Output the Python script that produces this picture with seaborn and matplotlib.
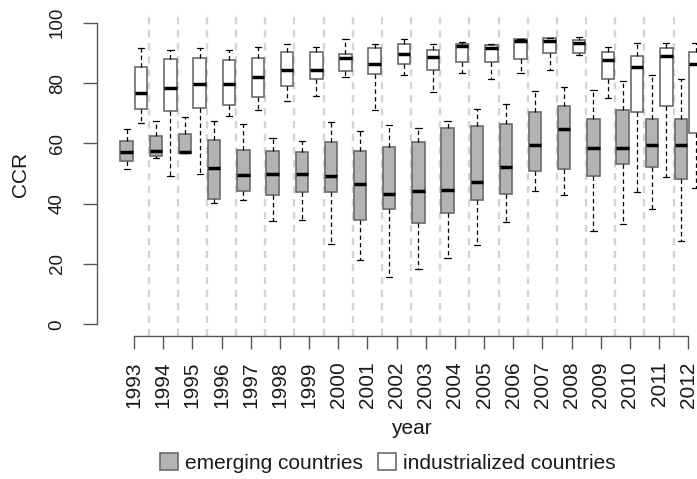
import numpy as np
import pandas as pd
import matplotlib
matplotlib.use("Agg")
import matplotlib.pyplot as plt
from matplotlib.patches import Patch
import seaborn as sns

# Years on the x axis
years = [str(y) for y in range(1993, 2013)]

# Five-number summaries (min, Q1, median, Q3, max) of CCR per year
emerging_min = [51.4, 55.0, 56.9, 40.3, 41.2, 34.4, 34.7, 26.6, 21.4, 15.8,
                18.3, 21.9, 26.3, 33.8, 44.2, 42.9, 30.9, 33.3, 38.1, 27.7]
emerging_q1 = [54.3, 55.9, 56.9, 41.5, 44.1, 42.9, 43.9, 43.8, 34.5, 38.3,
               33.7, 36.8, 41.1, 43.2, 50.7, 51.6, 49.3, 53.0, 52.3, 48.2]
emerging_med = [57.2, 57.5, 57.2, 51.9, 49.6, 49.9, 49.8, 49.3, 46.4, 43.3,
                44.3, 44.5, 47.1, 52.0, 59.5, 64.8, 58.5, 58.5, 59.3, 59.4]
emerging_q3 = [60.9, 62.3, 63.1, 61.1, 57.7, 57.5, 57.1, 60.3, 57.4, 58.8,
               60.3, 65.2, 65.9, 66.5, 70.5, 72.3, 68.0, 71.0, 68.1, 68.0]
emerging_max = [64.8, 67.4, 68.8, 67.5, 66.3, 61.7, 60.9, 67.2, 64.2, 66.1,
                65.2, 67.5, 71.4, 73.0, 77.5, 78.8, 77.7, 80.5, 82.6, 81.3]

industrial_min = [66.6, 49.3, 49.8, 69.1, 71.2, 74.1, 75.8, 82.1, 71.1, 82.7,
                  77.1, 83.2, 81.3, 83.4, 84.3, 89.2, 74.9, 43.8, 48.9, 45.1]
industrial_q1 = [71.3, 70.7, 71.7, 72.7, 75.4, 79.1, 81.2, 84.1, 82.9, 86.3,
                 84.2, 87.1, 87.1, 87.9, 90.1, 89.8, 81.4, 70.3, 72.3, 63.4]
industrial_med = [76.7, 78.3, 79.6, 79.6, 82.1, 84.4, 84.2, 88.2, 86.4, 89.5,
                  88.5, 92.3, 91.5, 93.9, 94.0, 93.3, 87.5, 85.2, 88.9, 86.4]
industrial_q3 = [85.3, 87.9, 88.4, 87.5, 88.4, 90.2, 90.2, 89.6, 91.5, 92.9,
                 90.9, 92.8, 92.6, 94.5, 94.8, 94.3, 90.2, 89.0, 91.5, 90.2]
industrial_max = [91.5, 90.9, 91.5, 90.9, 92.0, 92.9, 92.0, 94.6, 92.9, 94.6,
                  92.8, 93.7, 92.9, 94.6, 95.0, 95.2, 92.0, 93.4, 93.2, 93.2]

groups = ["emerging countries", "industrialized countries"]
colors = {"emerging countries": "#b3b3b3", "industrialized countries": "white"}

rows = []
for g, parts in zip(groups, [
        (emerging_min, emerging_q1, emerging_med, emerging_q3, emerging_max),
        (industrial_min, industrial_q1, industrial_med, industrial_q3, industrial_max)]):
    for i, yr in enumerate(years):
        for arr in parts:
            rows.append({"year": yr, "group": g, "CCR": arr[i]})
df = pd.DataFrame(rows)

sns.set_style("white")
plt.rcParams["font.family"] = ["Liberation Sans", "DejaVu Sans"]

W, H = 697, 479
fig = plt.figure(figsize=(W / 100, H / 100), dpi=100)
ax = fig.add_axes([97 / W, 1 - 336.4 / H, 600 / W, (336.4 - 10.6) / H])

# Light dashed separators between years
for k in range(len(years) - 1):
    ax.axvline(k + 0.5, color="#d4d4d4", lw=1.7, ls=(0, (3, 2.5)), zorder=0)

sns.boxplot(
    data=df, x="year", y="CCR", hue="group", order=years, hue_order=groups,
    palette=colors, width=1.0, gap=0.15, whis=(0, 100), showfliers=False,
    linecolor="#6b6b6b", linewidth=1.2, legend=False, ax=ax,
    medianprops={"color": "black", "linewidth": 2.5},
    whiskerprops={"color": "black", "linewidth": 0.9, "linestyle": (0, (3.5, 2.5))},
    capprops={"color": "black", "linewidth": 0.9},
)

ax.set_xlim(-1.268, 19.30)
ax.set_ylim(-4, 104)
ax.set_xlabel("")
ax.set_ylabel("")
ax.set_yticks([0, 20, 40, 60, 80, 100])
ax.set_yticklabels(["0", "20", "40", "60", "80", "100"], rotation=90, va="center")
ax.set_xticks(range(len(years)))
ax.set_xticklabels(years, rotation=90)

for side in ["top", "right"]:
    ax.spines[side].set_visible(False)
for side in ["left", "bottom"]:
    ax.spines[side].set_color("#555555")
    ax.spines[side].set_linewidth(1.0)
ax.spines["left"].set_bounds(0, 100)
ax.spines["bottom"].set_bounds(0, len(years) - 1)

ax.tick_params(axis="y", direction="out", length=10, width=1.0, color="#555555",
               pad=12.5, labelsize=13.5, labelcolor="#1a1a1a", left=True)
ax.tick_params(axis="x", direction="out", length=9.6, width=1.0, color="#555555",
               pad=8.4, labelsize=15, labelcolor="#1a1a1a", bottom=True)
ax.grid(False)

fig.text(20.5 / W, 1 - 174 / H, "CCR", rotation=90, ha="center", va="center",
         fontsize=15, color="#1a1a1a")
fig.text(411 / W, 1 - 428 / H, "year", ha="center", va="center",
         fontsize=15, color="#1a1a1a")

handles = [Patch(facecolor=colors[g], edgecolor="#6b6b6b", linewidth=1.2, label=g)
           for g in groups]
fig.legend(handles=handles, loc="center", bbox_to_anchor=(388 / W, 1 - 463 / H),
           bbox_transform=fig.transFigure, ncol=2, frameon=False, fontsize=15,
           handlelength=0.85, handleheight=0.85, handletextpad=0.34,
           columnspacing=0.72, borderpad=0, labelcolor="#1a1a1a")

fig.savefig("out.png", dpi=100)
